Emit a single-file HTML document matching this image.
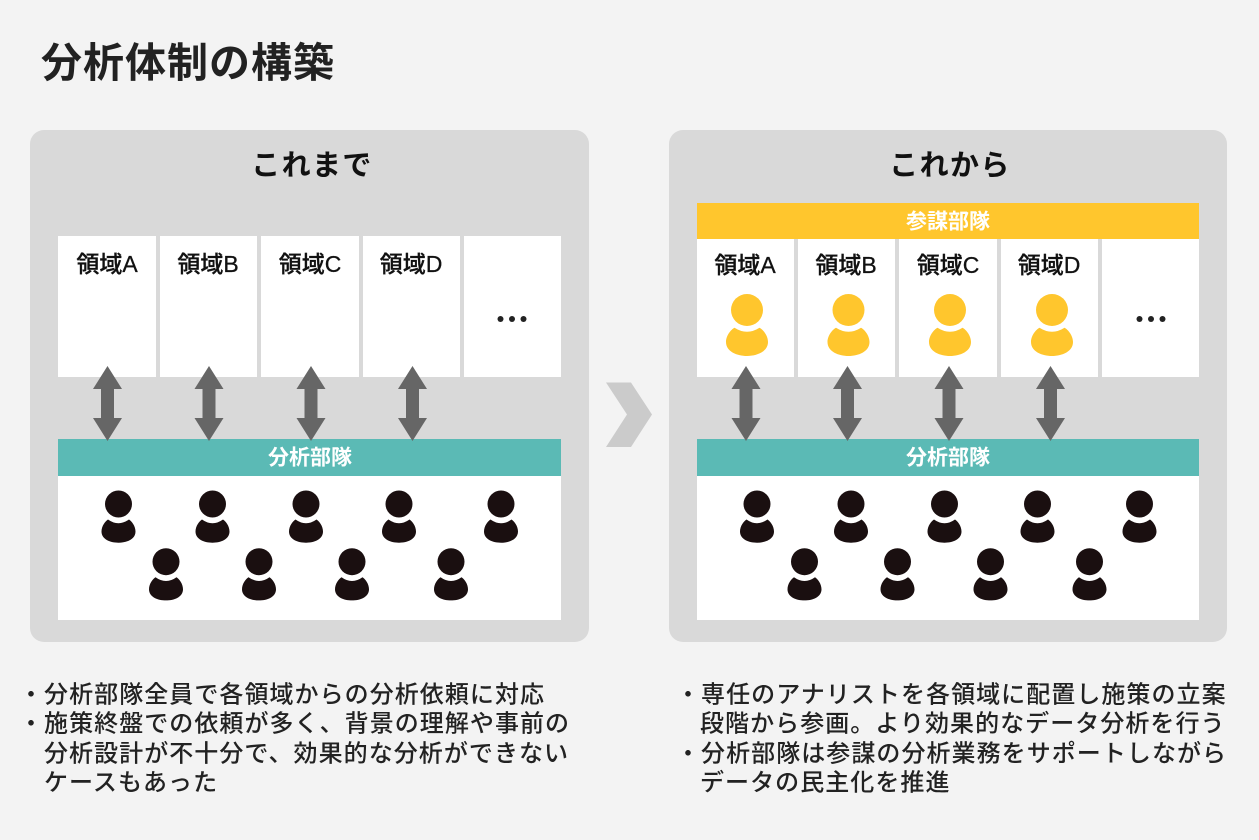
<!DOCTYPE html>
<html lang="ja"><head><meta charset="utf-8"><style>
html,body{margin:0;padding:0;background:#f3f3f3;width:1259px;height:840px;overflow:hidden}
svg{display:block}
text{font-family:"Liberation Sans","Noto Sans CJK JP",sans-serif;}
.b{font-family:"Noto Sans CJK JP",sans-serif;font-size:24px;font-weight:500;letter-spacing:1.05px;fill:#222}
.r{font-family:"Liberation Sans","Noto Sans CJK JP",sans-serif;font-size:23px;font-weight:500;fill:#111;stroke:#111;stroke-width:.3px;text-anchor:middle}
.w{font-family:"Noto Sans CJK JP",sans-serif;font-size:21px;font-weight:700;fill:#fff;text-anchor:middle}
.h{font-family:"Noto Sans CJK JP",sans-serif;font-size:29px;font-weight:700;letter-spacing:1.4px;fill:#111;text-anchor:middle}
</style></head><body>
<svg width="1259" height="840" viewBox="0 0 1259 840" xmlns="http://www.w3.org/2000/svg">
<defs>
<g id="p"><circle cx="0" cy="0" r="13.5"/><path d="M-10.5 15.5Q0 23 10.5 15.5C13 17 17 22 17 27.5C17 35.5 8 38.7 0 38.7C-8 38.7-17 35.5-17 27.5C-17 22-13 17-10.5 15.5Z"/></g>
<g id="y"><circle cx="0" cy="0" r="16"/><path d="M-12.5 17.7Q0 25.7 12.5 17.7C16 19.5 21 25.5 21 32C21 41.5 10 46 0 46C-10 46-21 41.5-21 32C-21 25.5-16 19.5-12.5 17.7Z"/></g>
<path id="a" d="M0 0L14.5 23H6.5V52H14.5L0 75L-14.5 52H-6.5V23H-14.5Z" fill="#666"/>
<g id="crowd" fill="#1a0f10">
<use href="#p" x="118.5" y="504"/><use href="#p" x="212.5" y="504"/><use href="#p" x="306" y="504"/><use href="#p" x="399" y="504"/><use href="#p" x="501" y="504"/>
<use href="#p" x="166" y="561.7"/><use href="#p" x="259" y="561.7"/><use href="#p" x="352" y="561.7"/><use href="#p" x="451" y="561.7"/>
</g>
</defs>
<rect width="1259" height="840" fill="#f3f3f3"/>
<text x="41" y="77" style="font-family:'Noto Sans CJK JP',sans-serif;font-size:41px;font-weight:700;letter-spacing:1px;fill:#222">分析体制の構築</text>

<rect x="30" y="130" width="559" height="512" rx="14" fill="#d9d9d9"/>
<rect x="669" y="130" width="558" height="512" rx="14" fill="#d9d9d9"/>
<text class="h" x="312" y="175">これまで</text>
<text class="h" x="950" y="175">これから</text>

<g fill="#fff">
<rect x="58" y="236" width="98" height="141"/><rect x="160" y="236" width="97" height="141"/><rect x="261" y="236" width="98" height="141"/><rect x="363" y="236" width="97" height="141"/><rect x="464" y="236" width="97" height="141"/>
<rect x="697" y="239" width="97" height="138"/><rect x="798" y="239" width="97" height="138"/><rect x="899" y="239" width="98" height="138"/><rect x="1001" y="239" width="97" height="138"/><rect x="1102" y="239" width="97" height="138"/>
<rect x="58" y="476" width="503" height="144"/><rect x="697" y="476" width="502" height="144"/>
</g>
<rect x="697" y="203" width="502" height="36" fill="#ffc62d"/>
<rect x="58" y="439" width="503" height="37" fill="#5bbab5"/>
<rect x="697" y="439" width="502" height="37" fill="#5bbab5"/>
<text class="w" x="310" y="464.5">分析部隊</text>
<text class="w" x="948" y="464.5">分析部隊</text>
<text class="w" x="948" y="228.5">参謀部隊</text>

<text class="r" x="107" y="272">領域A</text><text class="r" x="208" y="272">領域B</text><text class="r" x="310" y="272">領域C</text><text class="r" x="411" y="272">領域D</text>
<text class="r" x="745" y="273">領域A</text><text class="r" x="846" y="273">領域B</text><text class="r" x="948" y="273">領域C</text><text class="r" x="1049" y="273">領域D</text>
<g fill="#222"><circle cx="500.5" cy="319" r="3"/><circle cx="512" cy="319" r="3"/><circle cx="523.5" cy="319" r="3"/>
<circle cx="1139.5" cy="319" r="3"/><circle cx="1151" cy="319" r="3"/><circle cx="1162.5" cy="319" r="3"/></g>

<use href="#a" x="107.5" y="366"/><use href="#a" x="209" y="366"/><use href="#a" x="311" y="366"/><use href="#a" x="412.5" y="366"/>
<use href="#a" x="746" y="366"/><use href="#a" x="847.5" y="366"/><use href="#a" x="949" y="366"/><use href="#a" x="1050.5" y="366"/>

<use href="#crowd"/><use href="#crowd" x="638.5"/>
<g fill="#ffc62d"><use href="#y" x="747" y="310"/><use href="#y" x="848.5" y="310"/><use href="#y" x="950" y="310"/><use href="#y" x="1052" y="310"/></g>

<path d="M606 382.5H631L652 414.5L631 447H606L627 414.5Z" fill="#cbcbcb"/>

<text class="b" x="19" y="702.5">・分析部隊全員で各領域からの分析依頼に対応</text>
<text class="b" x="19" y="731.5">・施策終盤での依頼が多く、背景の理解や事前の</text>
<text class="b" x="44" y="761.5">分析設計が不十分で、効果的な分析ができない</text>
<text class="b" x="44" y="790.5">ケースもあった</text>
<text class="b" x="676" y="702.5">・専任のアナリストを各領域に配置し施策の立案</text>
<text class="b" x="700" y="731.5">段階から参画。より効果的なデータ分析を行う</text>
<text class="b" x="676" y="761.5">・分析部隊は参謀の分析業務をサポートしながら</text>
<text class="b" x="700" y="790.5">データの民主化を推進</text>
</svg>
</body></html>
